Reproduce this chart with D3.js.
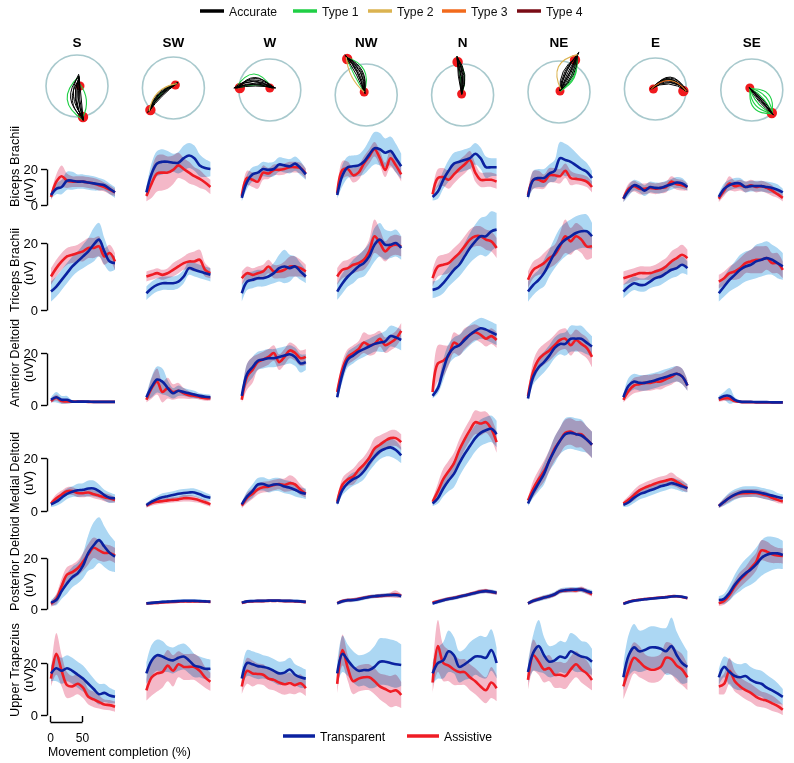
<!DOCTYPE html>
<html><head><meta charset="utf-8">
<script src="https://cdn.jsdelivr.net/npm/d3@7"></script>
<style>body{margin:0;background:#fff}svg{display:block;font-family:"Liberation Sans",Arial,sans-serif}</style>
</head><body><svg id="chart" width="794" height="763"></svg>
<script>
// ---------------- DATA ----------------
const directions = ["S","SW","W","NW","N","NE","E","SE"];
const muscles = ["Biceps Brachii","Triceps Brachii","Anterior Deltoid","Medial Deltoid","Posterior Deltoid","Upper Trapezius"];
const progress = [0, 8.33, 16.67, 25, 33.33, 41.67, 50, 58.33, 66.67, 75, 83.33, 91.67, 100];
const yTickValues = [0, 20];
const xTickValues = [0, 50];
const trajectoryTypes = ["Accurate","Type 1","Type 2","Type 3","Type 4"];
const conditions = ["Transparent","Assistive"];

// Biceps Brachii (uV), one row per direction
const bicepsTransparent = [
 [5.5,9,10,13.5,13.5,13,13,12.5,12,11.5,11,9,7],
 [7,17.5,23,24,24,23.5,23.5,26,27.5,26,22,20.5,20],
 [4,13,17,18,20,19.5,20,22.5,22,21.5,23,20.5,17],
 [5.5,16.5,21,21.5,22,24,28,31.5,31,29,30,26,21.5],
 [4.5,7.5,14,19,23,24,25,26,28.5,26,21,21,21],
 [4.5,14,15,15,17.5,19,26,25,24,22,20,18.5,15],
 [3.5,8,11,10,8,10,9.5,9.5,10.5,11.5,12.5,12,10],
 [4.5,9,11,12,12,10,10.5,10.5,10.5,10,9.5,8.5,7]];
const bicepsAssistive = [
 [4.5,13,16,13.5,13,13,13,12.5,12,11,10,8.5,7],
 [5,12,17.5,18,18,19.5,22,20,18,16,14.5,12.5,10],
 [5,15,14,13,18,17.5,19.5,19.5,20,21,21,20.5,17.5],
 [6.5,19.5,20,16.5,18,23,27,31,26,19.5,26,22,17],
 [6,15,15.5,14,17,20,22.5,25,18,14,14,14,13],
 [5.5,14,14,13,16.5,16.5,16,19,15,14.5,14,13,10],
 [3.5,9,10.5,9,9,9.5,9,9.5,10,13,11.5,11,10],
 [3.5,8,12,10.5,11,10,11,10,10.5,9.5,8,6,4]];
const bicepsTransparentSD = [
 [2,3,4,5,5,4,4,4,4,3.5,3,3,3],
 [3,6,7,7,6,5,6,7,7,7,6,5,4],
 [2,4,4,4,4,4,4,4,4,4,4,4,3],
 [2,6,6,6,6,7,8,9,9,8,8,8,7],
 [2,4,5,6,6,6,6,6,6,6,6,5,5],
 [2,5,5,5,5,6,9,9,8,7,6,5,4],
 [2,3,3,3,3,3,3,3,3,3,3,3,2],
 [2,3,3,3,3,3,3,3,3,3,3,3,2]];
const bicepsAssistiveSD = [
 [2,4,6,4,3,3,3,3,3,3,2.5,2.5,2],
 [3,8,10,10,9,8,7,6,6,5,5,4,4],
 [2,4,4,4,4,3,3,3,3,3,3,3,3],
 [2,5,4,4,4,4,4,4,4,4,5,4,4],
 [2,5,5,5,5,5,5,5,5,4,4,4,4],
 [2,5,5,4,4,4,4,4,4,3,3,3,3],
 [2,3,3,3,3,3,3,3,3,3,3,3,2],
 [2,3,4,3,3,3,3,3,3,3,3,2,2]];

// Triceps Brachii
const tricepsTransparent = [
 [5.5,7,9,11,13,14.5,16,17.5,19.5,21,17.5,14.5,14],
 [5,6.5,7.5,8,8,8,8.5,10,12.5,12,11.5,11,10.5],
 [5,8.5,9,9.5,9.5,10,11,12.5,13,12.5,13,11.5,10],
 [5.5,8,10,11.5,13,14,16,19.5,21,19.5,19.5,20,18.5],
 [6,6.5,8,10,12,13.5,16,18.5,20.5,22,22,23.5,24],
 [5.5,7.5,9,11,14,17,19.5,21,22,23,23.5,23.5,22],
 [5.5,7,8,7.5,7.5,8.5,9.5,10,11,12,12.5,13.5,12.5],
 [5,7,9,10.5,12,13,13.5,14.5,15,15.5,15,14,13]];
const tricepsAssistive = [
 [10,12.5,14.5,16,16.5,17,17.5,18.5,18.5,19,16,17,14.5],
 [10,10.5,11,10.5,11,12,13,14,14.5,14.5,15,12,11],
 [9.5,11,10.5,11,11.5,13,11.5,11.5,12,13,13,12.5,11.5],
 [10,12,12.5,13.5,14,15,17.5,22,20,17.5,19,19.5,19],
 [9.5,13,13.5,14,15.5,17,19,21,22,22,21,20.5,18.5],
 [9,12,13,14,15.5,16.5,19,22,20.5,22,21,19,19],
 [9.5,10,10.5,11,11,11,11.5,12,13,14.5,15.5,16.5,15.5],
 [8.5,9.5,11,11.5,12.5,14,14.5,15,15,15.5,14,14,12]];
const tricepsTransparentSD = [
 [3,3,3,3,3,3,3.5,4,5,5,4,3,2],
 [2,2,2,2,2,2,2,2,2,2,2,2,2],
 [2.5,2.5,2.5,2.5,2.5,2.5,3,4,5,4,3,2.5,2],
 [2.5,3,3,3.5,3.5,4,4,5,5,4.5,4,4,3.5],
 [2.5,2.5,3,3,3.5,3.5,4,4.5,5,5.5,6,6,5],
 [3,3,3,4,4,4.5,5,5,5,5,5,5,4],
 [2,2,2,2,2,2,2.5,2.5,2.5,2.5,2.5,2.5,2],
 [2.5,3,3.5,4,4.5,4.5,4.5,5,5,5,4.5,4.5,4]];
const tricepsAssistiveSD = [
 [2.5,2.5,2.5,2.5,2.5,2.5,3,3,3,3,2.5,2.5,2.5],
 [1.5,1.5,1.5,1.5,1.5,2,2,2,2.5,3,3,2,1.5],
 [2,2,2,2,2,2,2,2,2.5,3,3,2.5,2],
 [2.5,2.5,2.5,2.5,2.5,3,3.5,5,4,3,3,3,3],
 [2.5,3,3,3,3,3,3,3,3,3,3,3,3],
 [2.5,2.5,2.5,3,3,3,4,5,4,4,4,4,3.5],
 [2,2,2,2,2,2,2,2.5,2.5,3,3,3,2.5],
 [2,2,2,2.5,3,3,3.5,4,4,3.5,3,3,2.5]];

// Anterior Deltoid
const antDeltTransparent = [
 [2,3,2,2,1.3,1.3,1.3,1.3,1.2,1.2,1.2,1.2,1.2],
 [3,7,9.8,9,6.5,4.5,5.5,5,4.5,4,3.5,3.2,3],
 [3.5,12,14.5,17,17.5,18,18,18.5,19,19.5,18.5,16,16.5],
 [3,12,17.5,19,20.5,21.5,22.5,23.5,24,24.5,26.5,26,25],
 [3.5,6.5,13.5,19.5,22,23,25,27,28.5,29.5,29,28,27],
 [2.5,11,14.5,16.5,19,22,23.5,23.5,25.5,25.5,25.5,24,22.5],
 [3,7.5,9,8.5,8.5,9,9.5,10.2,10.8,11.5,12,11,7.5],
 [2.5,3.5,3.5,2,1.3,1.2,1.2,1.1,1.1,1.1,1,1,1]];
const antDeltAssistive = [
 [1.5,2.8,1.5,1.4,1.3,1.3,1.3,1.2,1.2,1.2,1.2,1.2,1.2],
 [2,6.5,9,5,6.5,5,5.5,4.5,3.8,3.5,3,2.6,2.6],
 [2,11,13.5,16.5,17.5,18.5,20,16.5,18.5,21,20,18,18.5],
 [5,14,18.5,20,21.5,24,23,23.5,25.5,23,24,25.5,28.5],
 [5,16,17,19,24,23,25.5,27,28,27,25.5,26.5,25],
 [3.5,13,17.5,19.5,21,23,25,25.5,23,25,23.5,22,18.5],
 [2,5.5,7.5,8,8.5,8.5,9,9,10,10.8,12,11,7.5],
 [2,2.5,2.5,1.5,1.2,1.1,1.1,1,1,1,1,1,1]];
const antDeltTransparentSD = [
 [1,2,1.5,1.5,0.5,0.4,0.4,0.4,0.4,0.4,0.4,0.4,0.4],
 [1,4,5,5,3,2,2,1.5,1.5,1.5,1,1,1],
 [1,4,4,3.5,3.5,3.5,3.5,3.5,3.5,3.5,3.5,3.5,3],
 [1,3,3,3,3,3,3,3,3.5,4,4,4,4],
 [1,2,4,4,4,4,4,4,4,4,4,4,4],
 [1,3,4,4,4,4,4,4.5,5,5,5,4.5,4],
 [1,3,3,3,3,3,3,3,3,3,3,3,2],
 [1,1.5,3,1,0.5,0.4,0.3,0.3,0.3,0.3,0.3,0.3,0.3]];
const antDeltAssistiveSD = [
 [0.8,1.2,1,0.8,0.4,0.3,0.3,0.3,0.3,0.3,0.3,0.3,0.3],
 [1,4,5,4,4,3,3,2,1.5,1,1,1,1],
 [1,5,5,3,3,3,3,3,3,3,3,3,3],
 [1,3,3,3,3,4,4,4,3,3,3,3,3],
 [1,7,6,4,4,4,4,3.5,3,3,3,3,3],
 [1,4,4,4,4,4,4,4,4,4,4,4,4],
 [1,2.5,3,3,3,3,3,3,3,3,3,3,2],
 [0.8,1,1,0.6,0.3,0.3,0.3,0.3,0.3,0.3,0.3,0.3,0.3]];

// Medial Deltoid
const medDeltTransparent = [
 [2.5,3.5,5,6.5,7.3,7.8,8,8.5,8.5,7.5,6,5,4.8],
 [2.2,3.5,4.5,5.2,5.6,6,6.5,6.8,7,7,6.3,5.5,5],
 [2.5,5.5,7.5,10,10.2,9.5,10,10,9.2,8.8,8,7,6.5],
 [2.8,8,10.5,12,13,15,18,20.5,22.5,23.5,24,23,21],
 [2.8,4.8,8.5,11.5,14,18,21.5,24.5,27.5,29.5,30.5,31,29],
 [2.8,7,10.5,14,19,23,26.5,29,29.5,29,28.5,27,25],
 [2.3,3.3,5,6.3,7,7.8,8.5,9.3,9.8,10.5,10,9.3,8.6],
 [1.9,3.5,5,6.2,7,7.3,7.3,7.2,6.8,6.3,5.8,5.3,4.8]];
const medDeltAssistive = [
 [2.8,4.8,6.2,7.5,7.5,6.8,6.7,7,6.3,5.8,5.2,4.7,4.2],
 [2,3,3.5,3.7,4,4.2,4.4,4.8,4.8,4.5,4,3.3,2.5],
 [2,5,6.5,8.2,9,9.2,9.8,10.2,9.8,10.5,10,8,6.5],
 [3.5,10,12,13,15.5,17.5,20,23.5,25,26.5,27.5,27.5,26],
 [3.5,7.5,12,15,18,23,27,30.5,33.5,33,33.5,31,26],
 [4,8.5,12,15,19,23.5,26.5,29.5,30,29,29,27,25],
 [2.8,4.3,6,7.8,8.8,9.6,10.4,11,11.5,12,11,9.8,8.6],
 [1.9,3.5,5,6,6.6,6.7,6.8,6.8,6.3,5.8,5,4.2,3.6]];
const medDeltTransparentSD = [
 [1,1.5,2,2,2,2.5,2.5,3,3,2.5,2,2,1.5],
 [0.8,1,1.2,1.5,1.5,1.5,1.5,1.5,1.5,1.5,1.5,1.5,1.2],
 [1,2,2.5,2.5,2.5,2.5,2.5,2.5,2.5,2.5,2.5,2,2],
 [1,2,2.5,2.5,2.5,3,3,3,3,3,3.5,3.5,3],
 [1,2,3,4,5,5,5,5,5,5,5,5,5],
 [1,2,3,4,4,5,5,6,6,6,6,5,5],
 [0.8,1.5,2,2,2,2,2,2,2,2,2,2,1.5],
 [0.8,1.5,2,2,2,2,2,2,2,2,2,1.5,1.5]];
const medDeltAssistiveSD = [
 [1,1.5,1.5,1.5,1.5,1.5,1.5,1.5,1.5,1.5,1.5,1.5,1],
 [0.8,1,1,1,1,1,1,1.2,1.2,1.2,1,1,0.8],
 [1,2,2,2,2,2,2,2,2.5,3,2.5,2,1.5],
 [1,2.5,2.5,3,3,3,3.5,4,3.5,3,3,3,3],
 [1,3,4,4,4,4,4,4,4.5,4.5,4,4,4],
 [1,3,3.5,4,4,4.5,5,5,5,5,5,5,5],
 [1,1.5,2,2,2,2,2,2,2,2.5,2,2,1.5],
 [0.8,1.2,1.5,1.5,1.5,1.5,1.5,1.5,1.5,1.5,1.2,1.2,1]];

// Posterior Deltoid
const postDeltTransparent = [
 [2.5,3.5,7,10,12.5,14,17,22,25,27,24.5,22,20.5],
 [2.2,2.4,2.6,2.8,2.9,3,3.1,3.2,3.2,3.2,3.1,3,2.9],
 [2.5,3,3.1,3.2,3.2,3.3,3.3,3.3,3.2,3.2,3.1,3,2.8],
 [2.2,3,3.4,3.5,3.8,4.3,4.7,5,5.2,5.4,5.5,5.5,5.1],
 [2.2,2.8,3.4,3.9,4.3,4.8,5.3,5.8,6.3,6.8,7,6.8,6.4],
 [2.2,3.2,3.8,4.5,5,5.8,7,7.4,7.5,7.6,7.6,7,6.4],
 [2,2.7,3.2,3.5,3.8,4,4.2,4.4,4.6,4.9,5,4.8,4.3],
 [3.5,4,6.3,9.5,12,14,15.5,17.5,20,21.3,21.8,21.8,21.2]];
const postDeltAssistive = [
 [2,4,9,13.5,14.5,16,18.5,21.5,24,23,22,22,21],
 [2.2,2.3,2.4,2.6,2.7,2.8,2.9,3,3,3,3,2.9,2.8],
 [2.4,2.9,3,3.1,3.1,3.2,3.2,3.2,3.1,3.1,3,2.9,2.7],
 [2.3,3.1,3.5,3.6,4,4.4,4.8,5,5.1,5.3,5.5,5.8,5.2],
 [2.5,3,3.5,4,4.4,4.9,5.3,5.9,6.4,6.9,7.1,6.7,6.3],
 [2.2,3.2,3.9,4.5,5,5.7,7,7.2,7.5,7.3,7.8,6.8,5.8],
 [2.1,2.8,3.3,3.6,3.9,4.1,4.3,4.5,4.7,5,5,4.7,4.2],
 [2.2,3.2,5.5,8.8,11.5,13.5,16,18.5,23,22.5,21.5,21,20.8]];
const postDeltTransparentSD = [
 [1,2,3,4,4,4,5,7,9,9,8,7,6],
 [0.5,0.5,0.5,0.6,0.6,0.6,0.6,0.6,0.6,0.6,0.6,0.6,0.5],
 [0.5,0.5,0.5,0.6,0.6,0.6,0.6,0.6,0.6,0.6,0.6,0.6,0.5],
 [0.6,0.7,0.8,0.8,0.8,0.8,0.8,0.8,0.8,0.8,0.8,0.8,0.8],
 [0.6,0.7,0.8,0.8,0.8,0.8,0.8,0.8,0.8,0.8,0.8,0.8,0.8],
 [0.6,0.8,0.9,1,1,1,1,1,1,1,1,1,1],
 [0.5,0.6,0.6,0.6,0.6,0.6,0.6,0.6,0.6,0.6,0.6,0.6,0.6],
 [1.5,2,3,4,5,5.5,6,6.5,7,7,6.5,6,5.5]];
const postDeltAssistiveSD = [
 [1,2,3,3,3,3,3.5,4,4,4,3.5,3,3],
 [0.5,0.5,0.5,0.5,0.5,0.5,0.5,0.5,0.5,0.5,0.5,0.5,0.5],
 [0.5,0.5,0.5,0.5,0.5,0.5,0.5,0.5,0.5,0.5,0.5,0.5,0.5],
 [0.6,0.7,0.7,0.7,0.7,0.7,0.7,0.7,0.8,0.8,1,1.5,0.8],
 [0.6,0.7,0.7,0.7,0.7,0.7,0.7,0.7,0.8,0.8,0.8,0.8,0.8],
 [0.6,0.8,0.8,0.8,0.8,0.8,0.8,0.8,0.9,0.9,1,1,0.9],
 [0.5,0.5,0.5,0.5,0.5,0.5,0.5,0.5,0.5,0.5,0.5,0.5,0.5],
 [1,1.5,2,2.5,3,3,3.5,3.5,4,4,3.5,3,3]];

// Upper Trapezius
const upTrapTransparent = [
 [16,18,17,18,17,15.5,14,12,10,8,8.5,7.5,7],
 [16,21,23,22.5,21.5,21,22,22.5,21,19,18.5,17.8,17.8],
 [14,20,19.5,18.8,18.5,18,17,16,16.3,17.5,15.5,14.5,14],
 [16,23.5,21,18.5,17,17.3,17.3,18.5,20.5,20.5,20,19.5,19.2],
 [16,20,21,24.5,23,18.5,19.5,21,22.5,22.5,22,25,20],
 [16.5,24,26.5,23,20.5,21,22.5,22,24.5,23.5,22.5,22,20.5],
 [14.5,23,26,24.5,25,26,26,25.5,24.5,26.5,23,20,18.5],
 [14.5,18.5,16.5,15,14.5,15,13.5,12.5,12,10.5,9.5,8.3,7]];
const upTrapAssistive = [
 [14,23.5,17,11.5,11,12,10.5,7,6,5,4,3.8,3.2],
 [9.5,14.5,16,16.5,19,17,19.5,18.5,18.5,18.5,17,14.5,12.8],
 [11,17,16,15.8,15.5,14,13.5,12.5,11.8,12.3,11.5,12.2,10.3],
 [12,25,18,13,14,14.5,14.5,13,11,10,9,9.5,7.7],
 [12.5,26.5,20,19,17.5,16.5,16.5,14.5,13,11,9.5,12.5,10.3],
 [13.5,23,20.5,17.5,18,15.5,15.5,15,17.5,19.5,17.5,16,13.5],
 [11,17.5,22,20.5,18.5,17.5,17.5,18.5,22,21.5,19,17.5,14.5],
 [11,12,17,13,11,9.6,8.5,7,6,5.5,4.5,3.5,2]];
const upTrapTransparentSD = [
 [3,5,5,5,5,5,5,4.5,4,4,3.5,3,2.5],
 [4,6,6,6,5,5,5,5,5,4.5,4,4,3.5],
 [3,5,5,5,4.5,4.5,4.5,4.5,4.5,4.5,4,4,3.5],
 [4,7,6,6,6,6,7,8,9,9,9,9,8],
 [4,6,7,8,7,6,6,7,7,8,8,8,6],
 [4,7,10,7,6,6,6,6,7,7,6,6,5],
 [5,8,9,8,8,8,8,8,9,11,9,8,6],
 [3,4,5,5,5,5,5,5,5,5,4.5,4,3]];
const upTrapAssistiveSD = [
 [3,8,6,5,4,4,4,3,3,2.5,2,2,2],
 [4,7,7,6,6,6,5,5,5,5,5,4,3.5],
 [3,5,5,4,4,4,4,4,4,4,3.5,3.5,3],
 [4,6,5,5,5,5,5,5,5,5.5,6,6,5],
 [4,10,7,6,6,5,5,5,5,5,5,6,5],
 [4,6,5,5,5,5,5,5,5,5,5,5,4],
 [5,6,6,6,5,5,5,5,6,6,6,6,5],
 [3,4,5,4,3.5,3.5,3.5,3.5,3,3,3,2.5,2]];

// Hand trajectories per direction: [type index, mid-path offset, start shift, end shift]
const trajStart = [[3,0],[2,-3],[0,-2],[-2,-3],[-1,-1],[1,-1],[-2,0],[-2,-2]];
const trajEnd = [[6,31],[-23,22],[-30,-2],[-19,-36],[-5,-33],[16,-32],[28,2],[20,23]];
const trajCurves = [
 [[1,14,-10,3],[1,-5,-2,0],[0,0,-10,2],[0,1.5,-8,3],[0,3,-11,1],[0,4.5,-6,4],[0,6,-9,2],[0,7.5,-12,0],[0,9,-7,3],[0,10.5,-10,1],[0,2.5,-5,2],[0,5.5,-9,3]],
 [[1,4,-3,0],[2,7,-2,2],[0,1.5,-3,2],[0,2.5,-2,3],[0,3.5,-4,1],[0,4.5,-1,2],[0,5.5,-3,4],[0,6.5,-2,1],[0,3,-1,3],[0,5,-3,2]],
 [[1,14,-2,4],[1,3,-4,2],[0,2,-5,4],[0,3.5,-3,6],[0,5,-6,3],[0,6.5,-2,5],[0,8,-5,6],[0,9.5,-4,3],[0,4,-6,5],[0,7,-3,4],[0,10.5,-2,2]],
 [[1,10,0,2],[1,-1,0,1],[2,-4,0,2],[0,1,-2,2],[0,2.5,0,4],[0,4,-1,3],[0,5.5,0,1],[0,7,-1,2],[0,3,0,5],[0,6,-2,3],[0,8,0,2]],
 [[1,5,0,4],[1,1,0,6],[0,0,0,5],[0,1.5,0,3],[0,3,-1,6],[0,4.5,0,4],[0,2,0,2],[0,3.5,0,6],[0,5.5,0,5],[0,-1,0,4]],
 [[1,4,0,3],[1,7,0,2],[1,6,0,5],[2,-12,2,6],[0,-4,0,5],[0,-2.5,0,7],[0,-1,0,5],[0,0.5,0,8],[0,2,0,6],[0,3.5,0,4],[0,5,0,6],[0,-5.5,0,3],[0,1,0,9],[0,-3,0,8]],
 [[1,-10,-2,2],[0,-6,-3,3],[0,-7.5,-2,4],[0,-9,-3,2],[0,-10.5,-1,3],[0,-12,-2,4],[0,-8,-3,3],[0,-11,-2,2],[0,-13,-1,3],[3,-9.5,-2,3]],
 [[1,-10,1,0],[1,-6,0,1],[1,-3,0,0],[1,4,0,1],[1,7,0,0],[1,10,1,1],[0,-2,0,2],[0,-1,0,1],[0,0,-1,2],[0,1,0,1],[0,2,-1,2],[0,-0.5,0,3]]
];

// ---------------- TABLES ----------------
const meansT = [bicepsTransparent, tricepsTransparent, antDeltTransparent, medDeltTransparent, postDeltTransparent, upTrapTransparent];
const meansA = [bicepsAssistive, tricepsAssistive, antDeltAssistive, medDeltAssistive, postDeltAssistive, upTrapAssistive];
const sdT = [bicepsTransparentSD, tricepsTransparentSD, antDeltTransparentSD, medDeltTransparentSD, postDeltTransparentSD, upTrapTransparentSD];
const sdA = [bicepsAssistiveSD, tricepsAssistiveSD, antDeltAssistiveSD, medDeltAssistiveSD, postDeltAssistiveSD, upTrapAssistiveSD];

// ---------------- LAYOUT / STYLE ----------------
const rowZero = [205, 310, 405, 511, 609, 715];
const rowTwenty = [169, 243, 353, 458, 558, 663];
const unitLabelY = [190, 273, 370, 483, 585, 680];
const colX = c => 51 + c * 95.4;
const panelW = 64;
const headX = c => 77 + c * 96.4;
const circleY = [86, 88, 90, 95, 95, 92, 89, 90];
const trajColors = ["#000000", "#1fcf45", "#dbb350", "#f26a1c", "#7a0c16"];
const blue = "#0b22a0", red = "#ef1c24";
const blueBand = "#acd7f3", redBand = "#f4b8c8";
const FONT = "Liberation Sans, Arial, sans-serif";

const svg = d3.select("#chart");
svg.append("rect").attr("width",794).attr("height",763).attr("fill","#fff");

// top legend
const legX = [200, 293, 368, 442, 517];
trajectoryTypes.forEach((t,i)=>{
  svg.append("line").attr("x1",legX[i]).attr("x2",legX[i]+24).attr("y1",11).attr("y2",11)
    .attr("stroke",trajColors[i]).attr("stroke-width",3.5);
  svg.append("text").attr("x",legX[i]+29).attr("y",15.5).attr("font-size",12.2).attr("fill","#111").text(t);
});

// direction headers + circles + trajectories
directions.forEach((d,i)=>{
  const cx = headX(i), cy = circleY[i];
  svg.append("text").attr("x",cx).attr("y",47).attr("text-anchor","middle")
    .attr("font-size",13.5).attr("font-weight","bold").text(d);
  const g = svg.append("g").attr("transform",`translate(${cx},${cy})`);
  g.append("circle").attr("r",31).attr("fill","none").attr("stroke","#a8c9cd").attr("stroke-width",1.6);
  const s = trajStart[i], e = trajEnd[i];
  g.append("circle").attr("cx",s[0]).attr("cy",s[1]).attr("r",4.5).attr("fill","#f01a1e");
  g.append("circle").attr("cx",e[0]).attr("cy",e[1]).attr("r",5.2).attr("fill","#f01a1e");
  const dx=e[0]-s[0], dy=e[1]-s[1], L=Math.hypot(dx,dy), ux=dx/L, uy=dy/L, nx=-uy, ny=ux;
  const rank = t => t===1?0:(t===0?1:2);
  const order = trajCurves[i].slice().sort((a,b)=> rank(a[0]) - rank(b[0]));
  order.forEach(([t,off,s0,s1])=>{
    const p0=[s[0]+ux*s0, s[1]+uy*s0], p1=[e[0]+ux*s1, e[1]+uy*s1];
    const mx=(p0[0]+p1[0])/2, my=(p0[1]+p1[1])/2;
    const p=d3.path(); p.moveTo(p0[0],p0[1]); p.quadraticCurveTo(mx+2*off*nx, my+2*off*ny, p1[0], p1[1]);
    g.append("path").attr("d",p.toString()).attr("fill","none").attr("stroke",trajColors[t])
      .attr("stroke-width",t===0?1.0:1.1);
  });
});

// EMG panels
const x = d3.scaleLinear().domain([0,100]).range([0,panelW]);
muscles.forEach((m,r)=>{
  const y = d3.scaleLinear().domain([0,20]).range([rowZero[r], rowTwenty[r]]);
  const band = (mean,sd)=> d3.area().x((v,k)=>x(progress[k]))
      .y0((v,k)=>y(Math.max(0,mean[k]-sd[k]))).y1((v,k)=>y(mean[k]+sd[k]))
      .curve(d3.curveCatmullRom)(mean);
  const line = d3.line().x((v,k)=>x(progress[k])).y(v=>y(v)).curve(d3.curveCatmullRom);
  directions.forEach((d,c)=>{
    const g = svg.append("g").attr("transform",`translate(${colX(c)},0)`);
    const T=meansT[r][c], A=meansA[r][c], Ts=sdT[r][c], As=sdA[r][c];
    g.append("path").attr("d",band(T,Ts)).attr("fill",blueBand).style("mix-blend-mode","multiply");
    g.append("path").attr("d",band(A,As)).attr("fill",redBand).style("mix-blend-mode","multiply");
    g.append("path").attr("d",line(A)).attr("fill","none").attr("stroke",red).attr("stroke-width",2.6);
    g.append("path").attr("d",line(T)).attr("fill","none").attr("stroke",blue).attr("stroke-width",2.6);
  });
  // y axis
  const ax = svg.append("g").attr("transform","translate(47,0)")
    .call(d3.axisLeft(y).tickValues(yTickValues).tickSize(6).tickSizeOuter(0).tickPadding(3));
  ax.selectAll("text").attr("font-size",13).attr("fill","#000").attr("font-family",FONT);
  ax.selectAll("path,line").attr("stroke","#000").attr("stroke-width",1.4);
  // row labels
  svg.append("text").attr("transform",`translate(19,${rowZero[r]+2}) rotate(-90)`)
    .attr("font-size",12.8).text(m);
  svg.append("text").attr("transform",`translate(33,${unitLabelY[r]}) rotate(-90)`)
    .attr("text-anchor","middle").attr("font-size",12.8).text("(uV)");
});

// x scale bar
const xs = d3.scaleLinear().domain([0,50]).range([50,82]);
const xb = svg.append("g").attr("transform","translate(0,722)")
  .call(d3.axisBottom(xs).tickValues(xTickValues).tickSize(-6).tickSizeOuter(0).tickPadding(11));
xb.selectAll("text").attr("font-size",12).attr("fill","#000").attr("font-family",FONT);
xb.selectAll("path,line").attr("stroke","#000").attr("stroke-width",1.4);
svg.append("text").attr("x",48).attr("y",755.5).attr("font-size",12.3).text("Movement completion (%)");

// bottom legend
const condX = [283, 407];
const condColors = [blue, red];
conditions.forEach((c,i)=>{
  svg.append("line").attr("x1",condX[i]).attr("x2",condX[i]+32).attr("y1",736).attr("y2",736)
    .attr("stroke",condColors[i]).attr("stroke-width",3.5);
  svg.append("text").attr("x",condX[i]+37).attr("y",740.5).attr("font-size",12.2).text(c);
});
</script></body></html>
